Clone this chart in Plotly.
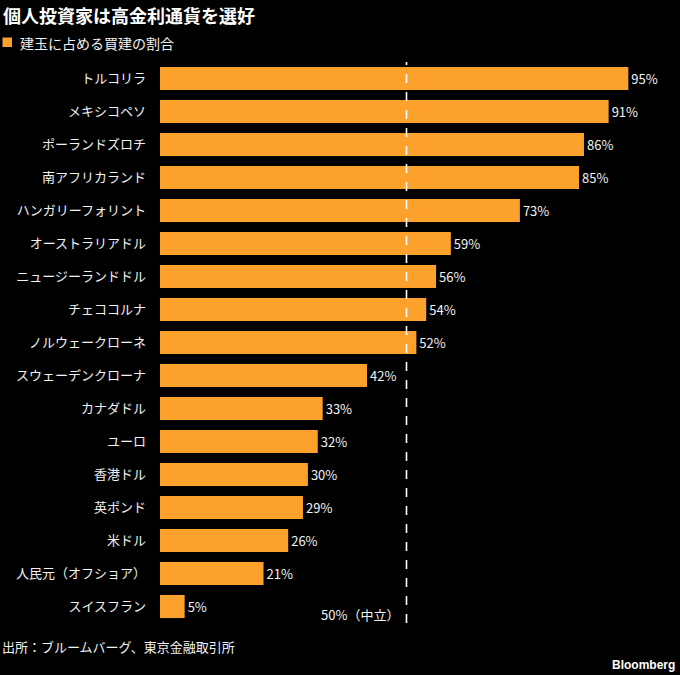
import plotly.graph_objects as go

categories = ["トルコリラ", "メキシコペソ", "ポーランドズロチ", "南アフリカランド", "ハンガリーフォリント",
              "オーストラリアドル", "ニュージーランドドル", "チェココルナ", "ノルウェークローネ",
              "スウェーデンクローナ", "カナダドル", "ユーロ", "香港ドル", "英ポンド", "米ドル",
              "人民元（オフショア）", "スイスフラン"]
values = [95, 91, 86, 85, 73, 59, 56, 54, 52, 42, 33, 32, 30, 29, 26, 21, 5]
labels = [f"{v}%" for v in values]
neutral = 50

W, H = 680, 675
L, R, T, B = 160, 27, 62, 52
pw, ph = W - L - R, H - T - B
FONT = "Noto Sans CJK JP"
ORANGE = "#FBA12C"
TXT = "#F2F2F2"

def px_x(p):
    return (p - L) / pw

def px_y(p):
    return (H - B - p) / ph

fig = go.Figure()
fig.add_trace(go.Bar(
    y=categories, x=values, orientation="h",
    marker=dict(color=ORANGE, line=dict(width=0)),
    text=labels, textposition="outside", cliponaxis=False,
    textfont=dict(color=TXT, size=13, family=FONT),
    hoverinfo="skip", showlegend=False,
))

fig.add_shape(type="line", x0=neutral, x1=neutral, xref="x", y0=0, y1=1, yref="paper",
              line=dict(color="white", width=1.6, dash="dash"), layer="above")

fig.add_annotation(x=neutral, xref="x", y=px_y(614), yref="paper", text="50%（中立）",
                   showarrow=False, xanchor="right", xshift=-6, yanchor="middle",
                   font=dict(color=TXT, size=13, family=FONT))

# Title
fig.add_annotation(x=px_x(1), xref="paper", y=px_y(15), yref="paper",
                   text="<b>個人投資家は高金利通貨を選好</b>", showarrow=False,
                   xanchor="left", yanchor="middle",
                   font=dict(color="white", size=18, family=FONT))
# Legend
fig.add_shape(type="rect", xref="paper", yref="paper",
              x0=px_x(2.5), x1=px_x(12), y0=px_y(37.5), y1=px_y(47),
              fillcolor=ORANGE, line=dict(width=0))
fig.add_annotation(x=px_x(18), xref="paper", y=px_y(43), yref="paper",
                   text="建玉に占める買建の割合", showarrow=False,
                   xanchor="left", yanchor="middle",
                   font=dict(color=TXT, size=14, family=FONT))
# Source
fig.add_annotation(x=px_x(0), xref="paper", y=px_y(646), yref="paper",
                   text="出所：ブルームバーグ、東京金融取引所", showarrow=False,
                   xanchor="left", yanchor="middle",
                   font=dict(color=TXT, size=13, family=FONT))
fig.add_annotation(x=px_x(677), xref="paper", y=px_y(665), yref="paper",
                   text="<b>Bloomberg</b>", showarrow=False,
                   xanchor="right", yanchor="middle",
                   font=dict(color="white", size=12, family="Liberation Sans, DejaVu Sans"))

fig.update_layout(
    width=W, height=H,
    margin=dict(l=L, r=R, t=T, b=B, pad=0),
    paper_bgcolor="black", plot_bgcolor="black",
    bargap=0.3,
    font=dict(family=FONT, color=TXT, size=13),
    xaxis=dict(range=[0, 100], visible=False, showgrid=False, zeroline=False),
    yaxis=dict(autorange="reversed", showgrid=False, zeroline=False, showline=False,
               ticks="", ticklabelstandoff=13,
               tickfont=dict(color=TXT, size=13, family=FONT)),
)

fig.write_html("out.html", config={"displayModeBar": False},
               post_script="document.body.style.margin='0';document.body.style.background='black';")
